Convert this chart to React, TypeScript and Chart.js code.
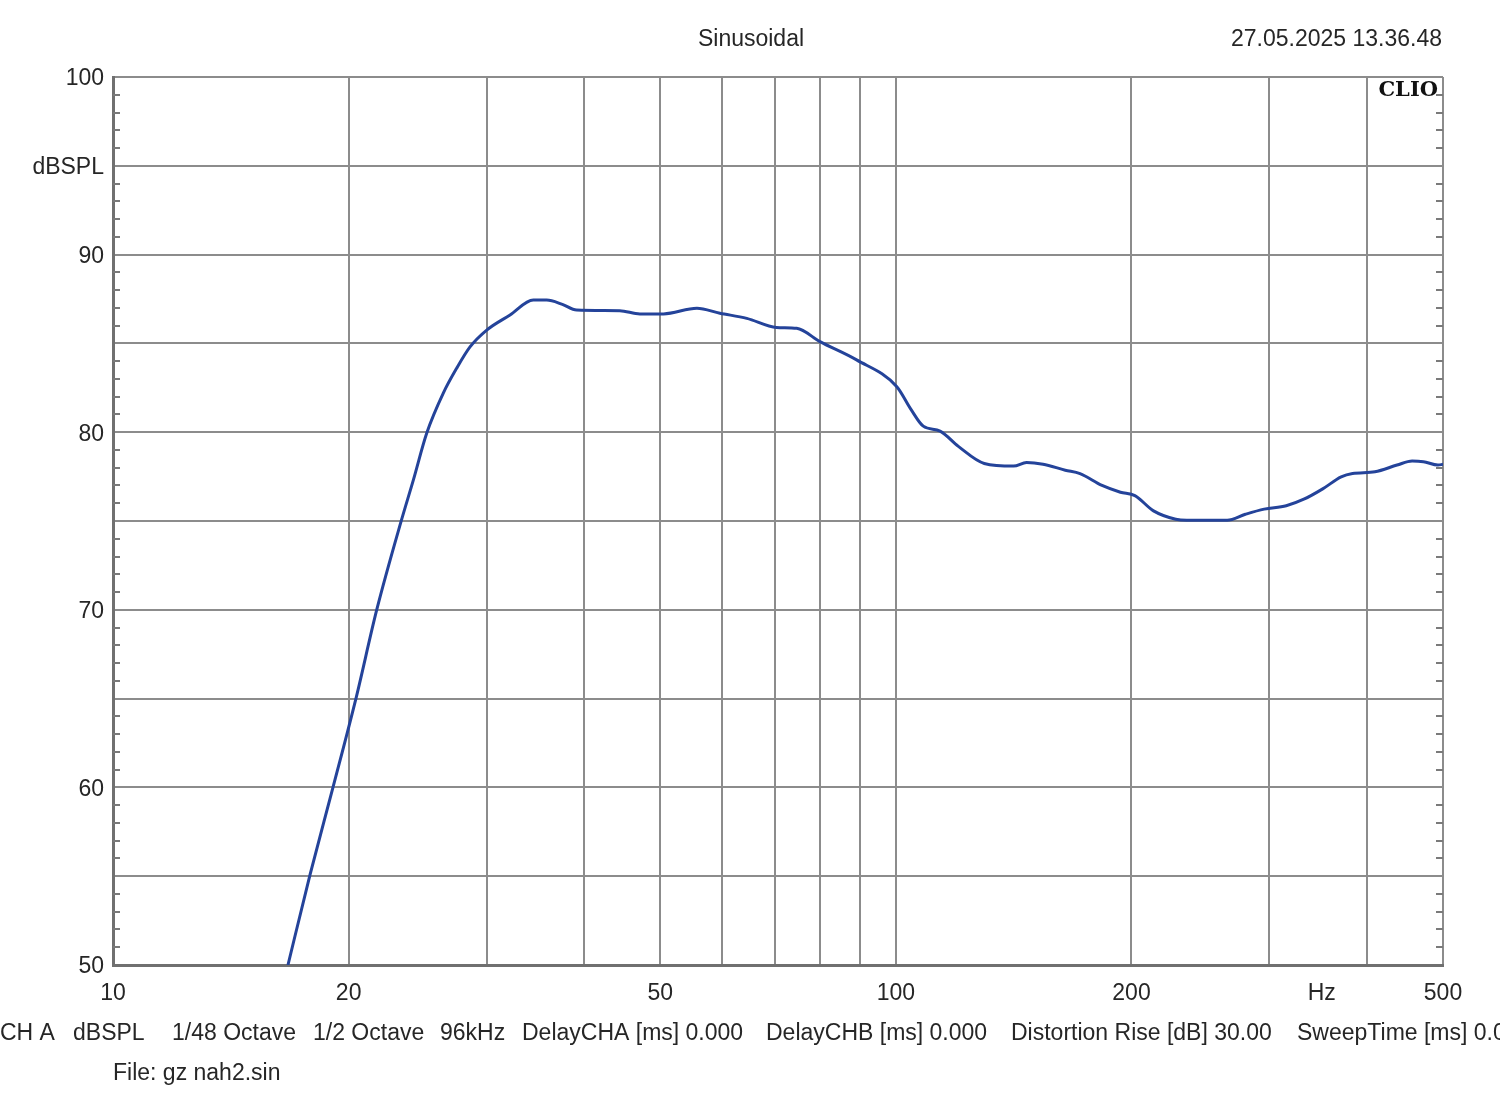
import React, { useEffect, useRef } from "react";
import { Chart, registerables } from "chart.js";

Chart.register(...registerables);

// ---- data ----
const freqHz = [
  16.73, 17.85, 19.11, 20.44, 21.72, 23.33, 24.19, 25.16, 26.42, 27.48, 28.58,
  30.02, 32.15, 34.43, 35.81, 37.5, 39.1, 44.4, 47.1, 50.5, 55.7, 59.6, 64.5, 70.4,
  74.7, 80, 89.1, 100.3, 104.5, 108.4, 113.9, 120.2, 129.7, 141.4, 146.9, 154.2,
  164.6, 171.9, 183.4, 193.6, 202, 213.4, 227.8, 235.3, 265, 279.6, 295.5, 315.3,
  332.6, 351, 370.6, 383.2, 409.3, 436.8, 456.6, 472, 492.7, 500,
];
const splDb = [
  50.0, 55.07, 60.04, 65.03, 69.99, 74.96, 77.3, 79.94, 82.2, 83.6, 84.8,
  85.75, 86.6, 87.44, 87.44, 87.2, 86.88, 86.84, 86.66, 86.66, 86.98, 86.7, 86.41, 85.9,
  85.85, 85.1, 84.07, 82.56, 81.3, 80.34, 80.06, 79.2, 78.24, 78.09, 78.3, 78.2,
  77.86, 77.67, 77.0, 76.62, 76.43, 75.57, 75.1, 75.04, 75.04, 75.38, 75.67, 75.86,
  76.24, 76.81, 77.48, 77.67, 77.77, 78.15, 78.38, 78.34, 78.15, 78.19,
];
const xGridHz = [10, 20, 30, 40, 50, 60, 70, 80, 90, 100, 200, 300, 400, 500];
const xTickLabels = [10, 20, 50, 100, 200, 500];
const yTickLabels = [50, 60, 70, 80, 90, 100];
const yUnitLabel = "dBSPL";
const yUnitValue = 95;
const xUnitLabel = "Hz";
const xUnitValue = 350;
const titleText = "Sinusoidal";
const dateText = "27.05.2025 13.36.48";
const brandText = "CLIO";
const footerItems = [
  "CH A",
  "dBSPL",
  "1/48 Octave",
  "1/2 Octave",
  "96kHz",
  "DelayCHA [ms] 0.000",
  "DelayCHB [ms] 0.000",
  "Distortion Rise [dB] 30.00",
  "SweepTime [ms] 0.000",
];
const fileText = "File: gz nah2.sin";

const FONT = '23px "Liberation Sans", Arial, sans-serif';
const TEXT = "#262626";
const footerX = [0, 73, 172, 313, 440, 522, 766, 1011, 1297];

const overlay = {
  id: "overlay",
  afterDraw(chart: any) {
    const ctx = chart.ctx;
    const xs = chart.scales.x;
    const ys = chart.scales.y;
    const area = chart.chartArea;
    ctx.save();
    // minor ticks every 1 dB on left and right edges
    ctx.strokeStyle = "#7a7a7a";
    ctx.lineWidth = 2;
    for (let v = 51; v < 100; v++) {
      if (v % 5 === 0) continue;
      const y = Math.round(ys.getPixelForValue(v));
      ctx.beginPath();
      ctx.moveTo(area.left, y);
      ctx.lineTo(area.left + 7, y);
      ctx.moveTo(area.right, y);
      ctx.lineTo(area.right - 7, y);
      ctx.stroke();
    }
    ctx.fillStyle = TEXT;
    ctx.font = FONT;
    // y labels
    ctx.textAlign = "right";
    ctx.textBaseline = "middle";
    for (const v of yTickLabels) {
      ctx.fillText(String(v), area.left - 9, ys.getPixelForValue(v) + 2);
    }
    ctx.fillText(yUnitLabel, area.left - 9, ys.getPixelForValue(yUnitValue) + 2);
    // x labels
    ctx.textAlign = "center";
    for (const v of xTickLabels) {
      ctx.fillText(String(v), xs.getPixelForValue(v), area.bottom + 29);
    }
    ctx.fillText(xUnitLabel, xs.getPixelForValue(xUnitValue), area.bottom + 29);
    // title and date
    ctx.fillText(titleText, 751, 40);
    ctx.textAlign = "right";
    ctx.fillText(dateText, area.right - 1, 40);
    // footer
    ctx.textAlign = "left";
    footerItems.forEach((t, i) => ctx.fillText(t, footerX[i], area.bottom + 69));
    ctx.fillText(fileText, area.left, area.bottom + 109);
    // brand
    ctx.font = 'bold 21px "DejaVu Serif", "Liberation Serif", serif';
    ctx.fillStyle = "#111";
    ctx.textAlign = "right";
    ctx.fillText(brandText, area.right - 5, area.top + 14);
    ctx.restore();
  },
};

export default function App() {
  const ref = useRef<HTMLCanvasElement | null>(null);
  useEffect(() => {
    if (!ref.current) return;
    const points = freqHz.map((f, i) => ({ x: f, y: splDb[i] }));
    const chart = new Chart(ref.current, {
      type: "line",
      data: {
        datasets: [
          {
            data: points,
            borderColor: "#24439a",
            borderWidth: 3,
            pointRadius: 0,
            cubicInterpolationMode: "monotone",
            fill: false,
          },
        ],
      },
      options: {
        animation: false,
        responsive: false,
        maintainAspectRatio: false,
        layout: { padding: { left: 113, right: 57, top: 77, bottom: 145 } },
        plugins: { legend: { display: false }, tooltip: { enabled: false }, title: { display: false } },
        scales: {
          x: {
            type: "logarithmic",
            min: 10,
            max: 500,
            afterBuildTicks: (scale: any) => {
              scale.ticks = xGridHz.map((v) => ({ value: v }));
            },
            ticks: { display: false },
            grid: { color: "#8c8c8c", lineWidth: 2, drawTicks: false },
            border: { color: "#707070", width: 3 },
          },
          y: {
            type: "linear",
            min: 50,
            max: 100,
            ticks: { display: false, stepSize: 5 },
            grid: { color: "#8c8c8c", lineWidth: 2, drawTicks: false },
            border: { color: "#707070", width: 3 },
          },
        },
      },
      plugins: [overlay],
    });
    return () => chart.destroy();
  }, []);
  return (
    <div style={{ position: "absolute", left: 0, top: 0, width: 1500, height: 1110, background: "#fff" }}>
      <canvas ref={ref} width={1500} height={1110} style={{ display: "block" }} />
    </div>
  );
}
